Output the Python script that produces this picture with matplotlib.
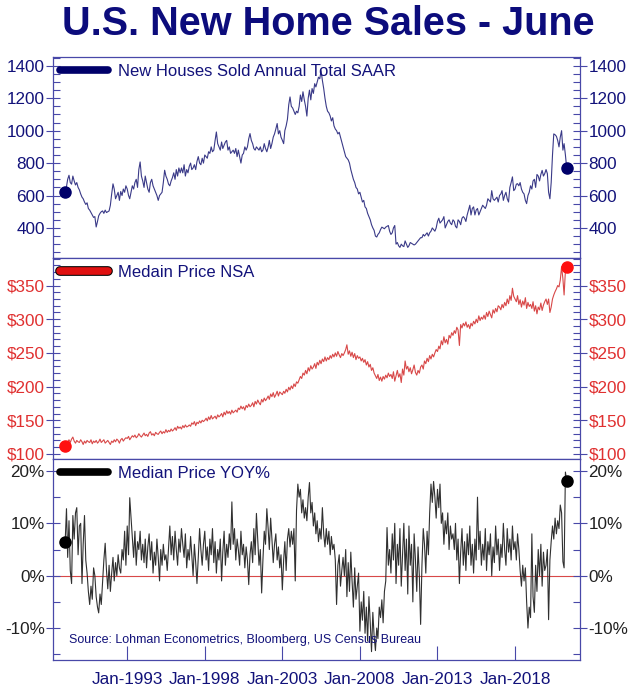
import numpy as np
import pandas as pd
import matplotlib
matplotlib.use('Agg')
import matplotlib.pyplot as plt
import matplotlib.dates as mdates
from matplotlib.lines import Line2D
from matplotlib.ticker import MultipleLocator, FuncFormatter
import matplotlib.patheffects as pe

plt.rcParams['font.family'] = ['Liberation Sans', 'DejaVu Sans']

# New houses sold, annual total SAAR (thousands), Jan-1989 .. May-2021
sales = [
    620, 655, 700, 725, 680, 670, 720, 690, 665, 680, 650, 635,
    610, 590, 580, 560, 545, 555, 520, 510, 495, 480, 465, 470,
    406, 440, 475, 490, 500, 505, 490, 510, 495, 500, 505, 540,
    610, 672, 640, 580, 600, 620, 570, 625, 600, 640, 620, 660,
    640, 600, 580, 620, 660, 640, 680, 700, 650, 760, 807, 720,
    690, 650, 720, 680, 640, 620, 680, 700, 660, 640, 620, 600,
    570, 600, 610, 620, 680, 756, 720, 700, 670, 660, 690, 710,
    740, 700, 760, 720, 770, 740, 770, 740, 790, 720, 760, 740,
    780, 800, 760, 770, 790, 760, 810, 840, 800, 790, 830, 800,
    850, 840, 830, 870, 860, 900, 870, 880, 940, 992, 920, 900,
    880, 930, 890, 910, 930, 940, 880, 900, 860, 870, 880, 860,
    890, 840, 880, 840, 800, 850, 860, 900, 880, 900, 950, 982,
    940, 920, 890, 880, 900, 890, 880, 900, 870, 880, 920, 890,
    870, 900, 940, 890, 920, 960, 980, 1010, 1044, 980, 1000, 960,
    941, 920, 1000, 1030, 1070, 1160, 1208, 1150, 1140, 1120, 1100, 1120,
    1110, 1150, 1220, 1180, 1240, 1190, 1150, 1090, 1200, 1250, 1190, 1260,
    1230, 1290, 1270, 1300, 1330, 1320, 1370, 1310, 1260, 1200, 1150, 1120,
    1110, 1090, 1060, 1080, 1030, 1010, 1000, 980, 990, 960, 930, 900,
    870, 840, 830, 820, 800, 760, 730, 700, 680, 650, 640, 610,
    620, 590, 560, 570, 530, 520, 490, 470, 450, 420, 400, 385,
    350, 344, 360, 370, 390, 405, 400, 395, 405, 410, 415, 380,
    360, 370, 400, 415, 300, 310, 290, 280, 300, 290, 285, 320,
    300, 280, 290, 310, 305, 300, 295, 300, 310, 320, 330, 340,
    340, 360, 350, 360, 370, 350, 370, 380, 400, 390, 380, 400,
    440, 460, 430, 440, 450, 470, 400, 420, 440, 450, 430, 420,
    450, 440, 410, 400, 450, 440, 420, 460, 470, 460, 440, 480,
    510, 540, 480, 520, 530, 480, 510, 520, 480, 500, 520, 540,
    530, 520, 540, 580, 570, 560, 630, 580, 570, 580, 590, 560,
    600, 610, 630, 570, 600, 620, 580, 560, 650, 680, 715, 630,
    640, 670, 673, 660, 680, 640, 620, 610, 570, 550, 600, 620,
    660, 640, 690, 700, 650, 730, 720, 690, 730, 755, 720, 735,
    760, 735, 620, 580, 680, 850, 980, 975, 965, 940, 900, 960,
    1000, 880, 920, 850, 770,
]

# Median price NSA ($ thousands)
price = [
    112, 116, 118, 121, 117, 122, 125, 119, 116, 120, 118, 117,
    121, 118, 114, 119, 116, 120, 118, 117, 121, 115, 119, 117,
    120, 116, 118, 122, 117, 119, 121, 116, 118, 120, 117, 114,
    119, 117, 121, 118, 122, 120, 116, 121, 123, 119, 122, 124,
    123, 126, 121, 124, 127, 125, 128, 124, 126, 130, 127, 125,
    128, 131, 127, 129, 126, 131, 133, 128, 130, 127, 132, 130,
    129, 132, 134, 130, 133, 131, 136, 132, 135, 133, 137, 134,
    136, 139, 135, 141, 138, 140, 137, 142, 139, 143, 140, 141,
    143, 141, 146, 144, 148, 142, 147, 145, 149, 146, 150, 148,
    150, 153, 149, 155, 151, 157, 152, 154, 156, 152, 158, 155,
    157, 160, 155, 162, 158, 164, 160, 163, 159, 165, 161, 163,
    165, 162, 168, 166, 171, 167, 170, 165, 172, 169, 174, 170,
    172, 176, 170, 178, 174, 180, 176, 173, 181, 177, 183, 179,
    182, 186, 181, 189, 185, 191, 184, 188, 193, 186, 192, 190,
    188, 193, 190, 196, 192, 199, 195, 201, 197, 204, 200, 207,
    205, 210, 215, 212, 220, 217, 224, 219, 228, 223, 231, 226,
    229, 234, 227, 236, 232, 239, 234, 241, 237, 244, 238, 243,
    240, 246, 242, 248, 244, 250, 245, 252, 247, 243, 249, 246,
    250, 255, 262, 248, 253, 245, 251, 243, 249, 240, 246, 242,
    244, 238, 242, 236, 240, 232, 237, 229, 233, 224, 228, 220,
    216, 212, 218, 209, 214, 208, 215, 211, 217, 213, 220, 215,
    218, 212, 222, 208, 216, 224, 214, 219, 206, 226, 217, 238,
    226, 230, 222, 228, 219, 225, 232, 221, 217, 224, 220, 229,
    232, 226, 238, 234, 242, 237, 246, 241, 248, 244, 250, 255,
    252, 260, 256, 268, 262, 274, 265, 270, 263, 276, 272, 280,
    276, 283, 279, 288, 284, 261, 292, 287, 294, 290, 296, 288,
    292, 286, 294, 290, 297, 293, 300, 295, 305, 298, 303, 300,
    306, 300, 310, 304, 312, 307, 302, 314, 309, 316, 311, 320,
    318, 314, 322, 317, 325, 320, 330, 323, 335, 328, 346, 334,
    330, 326, 335, 322, 329, 318, 327, 321, 332, 316, 325, 319,
    322, 316, 326, 312, 320, 308, 318, 314, 324, 313, 321, 326,
    330, 322, 330, 310, 318, 330, 336, 341, 345, 350, 348, 358,
    378, 360, 336, 372, 377,
]

# Median price YOY %
yoy = [
    6.5, 12.8, 3.5, 10.5, 1.0, -1.5, 11.5, 7.0, 12.0, 13.0, 4.0, 9.5,
    10.0, -1.5, 6.0, 11.5, 3.0, 0.5, -3.0, -5.5, -2.0, -4.5, 1.5, 0.0,
    -4.0, -6.0, -7.1, -3.5, -5.5, -1.0, 3.0, 6.2, 1.0, -2.5, 2.0, -3.0,
    0.5, 3.5, -1.0, 2.5, 0.0, 4.0, 1.5, 0.5, 5.0, 3.0, 8.5, 2.0,
    9.5, 4.0, 14.9, 11.0, 7.0, 3.5, 8.5, 2.0, 6.5, 5.0, 8.5, 3.0,
    6.0, 2.5, 7.0, 1.5, 5.5, 8.0, 3.0, 6.5, 0.5, 4.5, 2.0, 7.0,
    3.5, -1.0, 5.0, 2.0, 6.0, 3.0, 4.0, 1.0, 5.5, 9.5, 4.0, 7.5,
    3.0, 8.5, 5.0, 2.0, 7.0, 4.5, 9.0, 6.0, 3.5, 8.0, 1.5, 5.0,
    3.0, 7.5, 4.0, 0.0, 6.0, 2.5, -1.5, 3.5, 9.0, 5.0, 2.0, 6.0,
    8.5, 3.0, 5.5, 1.0, 7.0, 4.0, 9.0, 2.5, 6.5, 0.5, 5.0, 3.0,
    7.0, -1.0, 4.5, 8.5, 2.0, 6.0, 3.5, 8.0, 5.0, 14.1, 6.0, 9.0,
    3.0, 7.0, 5.0, 2.0, 8.5, 4.0, 6.0, 1.5, 5.5, 3.0, -1.7, 4.0,
    6.5, 2.5, 9.0, 4.0, 11.9, 7.0, 2.0, 5.0, -3.3, 3.0, 8.5, 6.0,
    12.8, 9.0, 5.0, 11.0, 7.0, 2.5, 6.0, 8.0, 3.0, 5.5, 1.5, 4.0,
    -2.7, 3.0, 6.5, 1.0, 7.0, 9.0, 5.5, 8.5, 6.0, 9.0, -1.0, 12.5,
    17.5, 15.0, 16.5, 12.0, 14.5, 11.0, 13.0, 10.5, 15.0, 17.8, 12.0, 14.0,
    9.5, 12.0, 8.0, 10.5, 6.5, 9.0, 7.0, 13.0, 8.0, 5.5, 9.0, 6.0,
    8.5, 4.0, 7.5, 5.0, 6.0, 3.0, -5.5, 2.0, 4.0, -2.0, 1.0, 3.5,
    0.0, 5.0, -4.0, 2.5, -3.0, 4.5, -1.0, -6.0, 1.5, -4.5, -2.0, 0.5,
    -10.6, -5.0, -8.5, -3.0, -11.0, -6.0, -12.5, -4.0, -9.0, -14.5, -7.0, -11.5,
    -14.3, -10.0, -12.0, -6.0, -8.0, -4.6, -9.0, -3.0, -1.0, 9.2, 2.0, 5.0,
    0.5, 8.0, 3.0, 10.0, -1.5, 6.0, 2.0, 9.0, -2.0, 4.0, 10.0, 1.0,
    7.0, -3.5, 9.5, 2.0, 6.0, -5.0, 8.0, 3.0, -3.0, 5.5, 0.0, -9.3,
    2.0, 9.0, 6.0, 0.5, 8.5, 4.0, 12.0, 17.5, 14.0, 18.0, 15.0, 11.0,
    16.5, 13.0, 17.5, 10.0, 12.0, 6.0, 10.5, 8.0, 12.0, 5.0, 9.5, 7.0,
    8.0, 5.0, 10.0, 3.0, 7.0, -1.5, 4.5, 9.0, 2.0, 6.5, 1.0, 8.0,
    4.0, 9.5, 2.0, 6.0, 0.5, 7.0, 3.0, 15.0, 5.0, 8.5, 2.0, 6.0,
    3.0, 9.0, 1.0, 6.5, 4.0, 8.0, 0.0, 5.5, 2.5, 9.5, 4.0, 7.0,
    1.0, 6.0, 3.5, 10.0, 5.0, 2.0, 9.0, 4.5, 7.0, 3.0, 9.5, 5.0,
    6.5, 3.0, 8.0, 5.0, 1.0, -2.0, 2.0, -1.0, 1.5, -5.0, -10.0, -6.0,
    -8.0, 8.0, -4.0, -7.0, 2.0, -3.0, 5.0, 0.0, 6.0, -2.0, 4.5, 1.0,
    2.0, 5.0, -8.4, 3.0, 6.5, 9.5, 7.0, 11.0, 8.0, 10.5, 9.0, 13.5,
    12.0, 2.7, 1.5, 19.8, 18.1,
]

dates = pd.date_range('1989-01-01', periods=len(sales), freq='MS')
tick_years = [1993, 1998, 2003, 2008, 2013, 2018]

navy = '#12127a'
spine_c = '#4848a8'

fig = plt.figure(figsize=(6.3, 6.94), dpi=100)
gs = fig.add_gridspec(3, 1, left=0.0841, right=0.9206, top=0.918, bottom=0.049, hspace=0)
axes = [fig.add_subplot(gs[i]) for i in range(3)]

fig.text(0.521, 0.966, 'U.S. New Home Sales - June', ha='center', va='center',
         fontsize=28.5, fontweight='bold', color='#0c0c7c')

series = [
    (sales, '#3a3a88', '#00006a', 'New Houses Sold Annual Total SAAR', navy,
     (215, 1455), 200, 50, lambda v, p: '%d' % v),
    (price, '#d84848', '#ff1010', 'Medain Price NSA', '#e03030',
     (92.5, 391), 50, 10, lambda v, p: '$%d' % v),
    (yoy, '#303030', '#000000', 'Median Price YOY%', '#202020',
     (-16.1, 22.3), 10, 5, lambda v, p: '%d%%' % v),
]

for ax, (vals, lc, dc, label, tc, ylim, major, minor, fmt) in zip(axes, series):
    ax.plot(dates, vals, color=lc, lw=0.8)
    ax.plot([dates[0], dates[-1]], [vals[0], vals[-1]], 'o', color=dc, ms=8, zorder=5)
    ax.set_ylim(*ylim)
    ax.set_xlim(pd.Timestamp('1988-03-20'), pd.Timestamp('2022-03-10'))
    ax.yaxis.set_major_locator(MultipleLocator(major))
    ax.yaxis.set_minor_locator(MultipleLocator(minor))
    ax.yaxis.set_major_formatter(FuncFormatter(fmt))
    ax.tick_params(axis='y', which='major', direction='inout', length=10, width=0.8,
                   color=spine_c, labelsize=12.3, labelcolor=tc, left=True, right=True,
                   labelleft=True, labelright=True, pad=1)
    ax.tick_params(axis='y', which='minor', direction='in', length=5, width=0.8,
                   color=spine_c, left=True, right=True)
    for s in ax.spines.values():
        s.set_color(spine_c)
        s.set_linewidth(0.9)
    handle = Line2D([], [], color=dc if dc != '#ff1010' else '#e01010', lw=5.5,
                    solid_capstyle='round')
    if dc == '#ff1010':
        handle.set_path_effects([pe.Stroke(linewidth=7, foreground='black'), pe.Normal()])
    leg = ax.legend([handle], [label], loc='upper left', frameon=False, fontsize=12,
                    handlelength=2.9, handletextpad=0.62, borderaxespad=0.15,
                    borderpad=0.25)
    for t in leg.get_texts():
        t.set_color(navy)

for ax in axes[:2]:
    ax.tick_params(axis='x', which='both', bottom=False, top=False, labelbottom=False)

ax3 = axes[2]
ax3.axhline(0, color='#d84848', lw=0.8, zorder=1)
ax3.set_xticks([pd.Timestamp('%d-01-01' % y) for y in tick_years])
ax3.xaxis.set_major_formatter(mdates.DateFormatter('Jan-%Y'))
ax3.xaxis.set_minor_locator(matplotlib.ticker.NullLocator())
ax3.tick_params(axis='x', which='major', direction='in', length=10, width=0.8,
                color=spine_c, labelsize=12.3, labelcolor=navy, pad=9)
ax3.text(0.03, 0.1, 'Source: Lohman Econometrics, Bloomberg, US Census Bureau',
         transform=ax3.transAxes, fontsize=9, color=navy, va='center')

fig.savefig('out.png', dpi=100, facecolor='white')
